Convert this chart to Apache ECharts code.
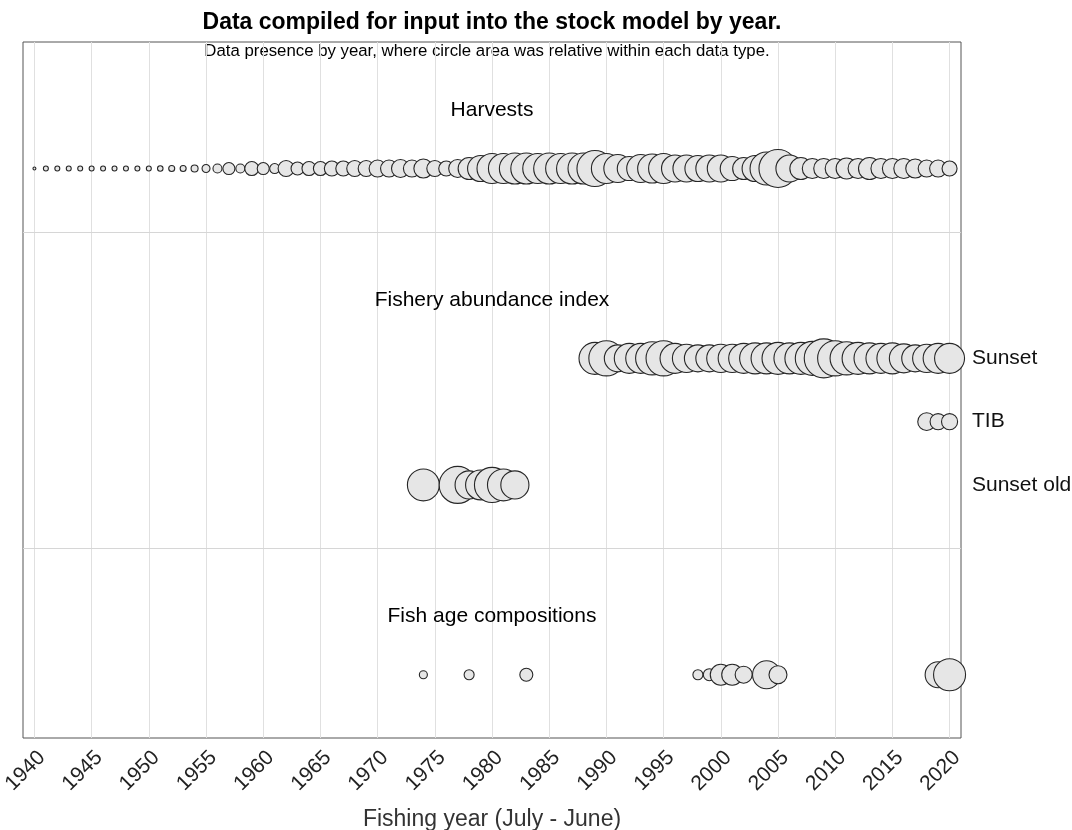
<!DOCTYPE html>
<html>
<head>
<meta charset="utf-8">
<script src="https://cdn.jsdelivr.net/npm/echarts@6/dist/echarts.min.js"></script>
<style>
  html, body { margin: 0; padding: 0; background: #ffffff; }
  #chart { width: 1072px; height: 830px; }
</style>
</head>
<body>
<div id="chart"></div>
<script>
// ---- Data -------------------------------------------------------------
const xTickLabels = ['1940', '1945', '1950', '1955', '1960', '1965', '1970', '1975', '1980',
  '1985', '1990', '1995', '2000', '2005', '2010', '2015', '2020'];

// Harvest (relative units, 2005 = 100)
const harvestYears = [1940, 1941, 1942, 1943, 1944, 1945, 1946, 1947, 1948, 1949,
  1950, 1951, 1952, 1953, 1954, 1955, 1956, 1957, 1958, 1959,
  1960, 1961, 1962, 1963, 1964, 1965, 1966, 1967, 1968, 1969,
  1970, 1971, 1972, 1973, 1974, 1975, 1976, 1977, 1978, 1979,
  1980, 1981, 1982, 1983, 1984, 1985, 1986, 1987, 1988, 1989,
  1990, 1991, 1992, 1993, 1994, 1995, 1996, 1997, 1998, 1999,
  2000, 2001, 2002, 2003, 2004, 2005, 2006, 2007, 2008, 2009,
  2010, 2011, 2012, 2013, 2014, 2015, 2016, 2017, 2018, 2019, 2020];
const harvestValues = [0.6, 1.7, 1.7, 1.7, 1.7, 1.7, 1.7, 1.7, 1.7, 1.7,
  1.7, 2.1, 2.5, 2.5, 3.4, 4.4, 5.6, 10.0, 5.6, 13.6,
  10.0, 6.9, 17.7, 11.7, 13.6, 13.6, 15.6, 15.6, 17.7, 17.7,
  20.0, 20.0, 22.4, 20.0, 25.0, 17.7, 15.6, 22.4, 33.5, 46.8,
  62.3, 62.3, 66.6, 66.6, 62.3, 66.6, 62.3, 66.6, 66.6, 89.8,
  62.3, 54.3, 39.9, 54.3, 58.2, 62.3, 50.5, 50.5, 46.8, 50.5,
  50.5, 39.9, 33.5, 46.8, 75.4, 100.0, 50.5, 33.5, 27.7, 27.7,
  27.7, 30.5, 27.7, 33.5, 27.7, 27.7, 27.7, 25.0, 20.0, 20.0, 15.6];

// Fishery abundance indices (relative CPUE)
const sunsetYears = [1989, 1990, 1991, 1992, 1993, 1994, 1995, 1996, 1997, 1998,
  1999, 2000, 2001, 2002, 2003, 2004, 2005, 2006, 2007, 2008,
  2009, 2010, 2011, 2012, 2013, 2014, 2015, 2016, 2017, 2018, 2019, 2020];
const sunsetIndex = [0.67, 0.81, 0.48, 0.59, 0.59, 0.72, 0.81, 0.59, 0.52, 0.48,
  0.48, 0.52, 0.52, 0.59, 0.63, 0.63, 0.67, 0.63, 0.67, 0.76,
  1.00, 0.81, 0.72, 0.67, 0.63, 0.59, 0.63, 0.55, 0.48, 0.52, 0.59, 0.59];
const tibYears = [2018, 2019, 2020];
const tibIndex = [0.21, 0.17, 0.17];
const sunsetOldYears = [1974, 1977, 1978, 1979, 1980, 1981, 1982];
const sunsetOldIndex = [0.67, 0.90, 0.52, 0.59, 0.81, 0.67, 0.52];

// Fish age compositions (number of fish aged)
const ageCompYears = [1974, 1978, 1983, 1998, 1999, 2000, 2001, 2002, 2004, 2005, 2019, 2020];
const ageCompSamples = [63, 98, 165, 98, 141, 431, 431, 282, 766, 316, 660, 1000];

const sectionTitles = ['Harvests', 'Fishery abundance index', 'Fish age compositions'];
const indexNames = ['Sunset', 'TIB', 'Sunset old'];

// ---- Layout -----------------------------------------------------------
const FONT = '"Liberation Sans", Arial, Helvetica, sans-serif';
const ROW_HARVEST = 9;
const ROW_INDEX = [6, 5, 4];
const ROW_AGE = 1;
const HEADING_ROWS = [10, 7, 2];
const DIVIDER_ROWS = [8, 3];
const X_CENTER = 1980;

const DIAM_HARVEST = 38;
const DIAM_INDEX = 39;
const DIAM_AGE = 32;

const harvestMax = Math.max(...harvestValues);
const indexMax = Math.max(...sunsetIndex, ...tibIndex, ...sunsetOldIndex);
const ageMax = Math.max(...ageCompSamples);

// circle area proportional to the value within each data type
const areaSize = (diam, max) => (val) => diam * Math.sqrt(val[2] / max);

const bubbleStyle = { color: '#e6e6e6', borderColor: '#262626', borderWidth: 1.1, opacity: 1 };

function bubbleSeries(name, years, values, row, sizeFn, extra) {
  return Object.assign({
    name: name,
    type: 'scatter',
    silent: true,
    symbol: 'circle',
    symbolSize: sizeFn,
    itemStyle: bubbleStyle,
    emphasis: { disabled: true },
    data: years.map((y, i) => [y, row, values[i]])
  }, extra || {});
}

const chart = echarts.init(document.getElementById('chart'), null, { renderer: 'canvas' });

chart.setOption({
  animation: false,
  backgroundColor: '#ffffff',
  textStyle: { fontFamily: FONT },
  graphic: [
    {
      type: 'text', x: 492, y: 23,
      style: {
        text: 'Data compiled for input into the stock model by year.',
        align: 'center', verticalAlign: 'middle',
        font: 'bold 23px ' + FONT, fill: '#000000'
      }
    },
    {
      type: 'text', x: 487, y: 51,
      style: {
        text: 'Data presence by year, where circle area was relative within each data type.',
        align: 'center', verticalAlign: 'middle',
        font: '16.8px ' + FONT, fill: '#000000'
      }
    }
  ],
  grid: {
    left: 23, right: 111, top: 42, bottom: 92,
    outerBoundsMode: 'none',
    containLabel: false,
    show: true, borderColor: '#555555', borderWidth: 1, backgroundColor: 'transparent'
  },
  xAxis: {
    type: 'value',
    min: 1939, max: 2021,
    name: 'Fishing year (July - June)',
    nameLocation: 'middle',
    nameGap: 70,
    nameTextStyle: { fontSize: 23, color: '#333333', fontFamily: FONT },
    axisLine: { show: false },
    axisTick: { show: false, customValues: xTickLabels.map(Number) },
    axisLabel: {
      customValues: xTickLabels.map(Number),
      formatter: (v) => String(v),
      rotate: 45, margin: 9,
      verticalAlign: 'top',
      fontSize: 21, color: '#222222', fontFamily: FONT
    },
    splitLine: { show: true, lineStyle: { color: '#e0e0e0', width: 1 } }
  },
  yAxis: {
    type: 'value',
    min: 0, max: 11,
    position: 'right',
    axisLine: { show: false },
    axisTick: { show: false },
    splitLine: { show: false },
    axisLabel: {
      customValues: ROW_INDEX,
      formatter: (v) => indexNames[ROW_INDEX.indexOf(v)] || '',
      margin: 11, fontSize: 21, color: '#111111', fontFamily: FONT
    }
  },
  series: [
    bubbleSeries('Harvests', harvestYears, harvestValues, ROW_HARVEST,
      areaSize(DIAM_HARVEST, harvestMax), {
        markLine: {
          silent: true, symbol: 'none', label: { show: false },
          lineStyle: { color: '#d6d6d6', width: 1, type: 'solid' },
          data: DIVIDER_ROWS.map(v => ({ yAxis: v }))
        }
      }),
    bubbleSeries('Sunset old', sunsetOldYears, sunsetOldIndex, ROW_INDEX[2], areaSize(DIAM_INDEX, indexMax)),
    bubbleSeries('TIB', tibYears, tibIndex, ROW_INDEX[1], areaSize(DIAM_INDEX, indexMax)),
    bubbleSeries('Sunset', sunsetYears, sunsetIndex, ROW_INDEX[0], areaSize(DIAM_INDEX, indexMax)),
    bubbleSeries('Fish age compositions', ageCompYears, ageCompSamples, ROW_AGE, areaSize(DIAM_AGE, ageMax)),
    {
      name: 'headings',
      type: 'scatter',
      silent: true,
      symbolSize: 1,
      itemStyle: { color: 'transparent', opacity: 1 },
      label: {
        show: true, position: 'inside', offset: [0, 5],
        formatter: (p) => p.name,
        fontSize: 21, color: '#000000', fontFamily: FONT,
        textBorderWidth: 0
      },
      data: sectionTitles.map((t, i) => ({ name: t, value: [X_CENTER, HEADING_ROWS[i]] }))
    }
  ]
});
</script>
</body>
</html>
